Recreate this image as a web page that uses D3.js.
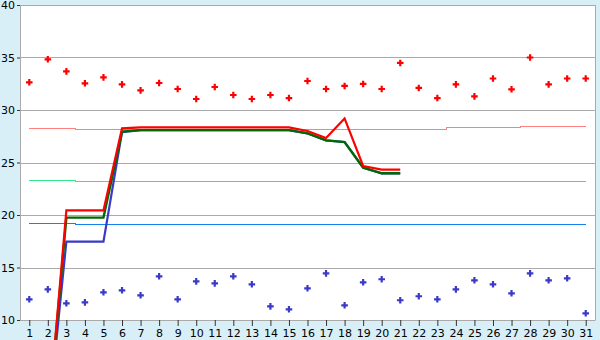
<!DOCTYPE html>
<html>
<head>
<meta charset="utf-8">
<script src="https://cdn.jsdelivr.net/npm/d3@7"></script>
<style>
  body { margin: 0; background: #d9eff7; }
  text { font-family: "DejaVu Sans", sans-serif; font-size: 11px; fill: #000; }
</style>
</head>
<body>
<div id="chart-area"></div>
<script>
const MARGIN = { LEFT: 20, RIGHT: 5, TOP: 5, BOTTOM: 20 }
const WIDTH = 600 - MARGIN.LEFT - MARGIN.RIGHT
const HEIGHT = 340 - MARGIN.TOP - MARGIN.BOTTOM

// days of the month
const days = d3.range(1, 32)
const yTicks = [10, 15, 20, 25, 30, 35, 40]

// scattered points
const highPoints = [32.64, 34.83, 33.68, 32.54, 33.11, 32.44, 31.87, 32.57, 32.0, 31.05,
  32.19, 31.43, 31.05, 31.43, 31.14, 32.76, 32.0, 32.29, 32.48, 32.0,
  34.48, 32.1, 31.14, 32.44, 31.3, 33.0, 31.97, 35.0, 32.44, 33.0, 33.0]
const lowPoints = [11.97, 12.92, 11.59, 11.68, 12.64, 12.83, 12.35, 14.16, 11.97, 13.68,
  13.49, 14.16, 13.4, 11.3, 11.02, 13.02, 14.44, 11.4, 13.59, 13.88,
  11.88, 12.26, 11.97, 12.92, 13.78, 13.4, 12.54, 14.44, 13.78, 13.97, 10.64]

// thin reference lines
const pinkRef = [28.25, 28.25, 28.25, 28.18, 28.18, 28.18, 28.18, 28.18, 28.18, 28.18,
  28.18, 28.18, 28.18, 28.18, 28.18, 28.18, 28.18, 28.18, 28.18, 28.18,
  28.18, 28.18, 28.18, 28.38, 28.38, 28.38, 28.38, 28.47, 28.47, 28.47, 28.47]
const greenRef = [23.32, 23.32, 23.32, 23.24, 23.24, 23.24, 23.24, 23.24, 23.24, 23.24,
  23.24, 23.24, 23.24, 23.24, 23.24, 23.24, 23.24, 23.24, 23.24, 23.24,
  23.24, 23.24, 23.24, 23.24, 23.24, 23.24, 23.24, 23.24, 23.24, 23.24, 23.24]
const blueRef = [19.21, 19.21, 19.21, 19.11, 19.11, 19.11, 19.11, 19.11, 19.11, 19.11,
  19.11, 19.11, 19.11, 19.11, 19.11, 19.11, 19.11, 19.11, 19.11, 19.11,
  19.11, 19.11, 19.11, 19.11, 19.11, 19.11, 19.11, 19.11, 19.11, 19.11, 19.11]

// thick running lines (days 1..21)
const redLine = [0, 0, 20.44, 20.44, 20.44, 28.25, 28.35, 28.35, 28.35, 28.35,
  28.35, 28.35, 28.35, 28.35, 28.35, 28.0, 27.33, 29.2, 24.67, 24.32, 24.32]
const greenLine = [0, 0, 19.75, 19.75, 19.75, 27.94, 28.08, 28.08, 28.08, 28.08,
  28.08, 28.08, 28.08, 28.08, 28.08, 27.78, 27.11, 26.95, 24.51, 23.97, 23.97]
const blueLine = [0, 0, 17.46, 17.46, 17.46, 27.9, 28.08, 28.08, 28.08, 28.08,
  28.08, 28.08, 28.08, 28.08, 28.08, 27.78, 27.11, 26.95, 24.51, 23.97, 23.97]

const svg = d3.select("#chart-area").append("svg")
  .attr("width", 600)
  .attr("height", 340)
  .style("display", "block")

const g = svg.append("g")
  .attr("transform", `translate(${MARGIN.LEFT}, ${MARGIN.TOP})`)

const x = d3.scalePoint()
  .domain(days)
  .range([0, WIDTH])
  .padding(0.5)

const y = d3.scaleLinear()
  .domain([10, 40])
  .range([HEIGHT, 0])

// white plot area
g.append("rect")
  .attr("width", WIDTH)
  .attr("height", HEIGHT)
  .attr("fill", "#fff")

// gridlines
g.append("g")
  .selectAll("line")
  .data(yTicks)
  .enter().append("line")
  .attr("x1", 0)
  .attr("x2", WIDTH)
  .attr("y1", d => Math.round(y(d)) + 0.5)
  .attr("y2", d => Math.round(y(d)) + 0.5)
  .attr("stroke", "#aaa")

g.append("line")
  .attr("x1", WIDTH + 0.5).attr("x2", WIDTH + 0.5)
  .attr("y1", 0).attr("y2", HEIGHT)
  .attr("stroke", "#aaa")

// y axis
const yAxis = g.append("g")
  .call(d3.axisLeft(y).tickValues(yTicks).tickSize(3).tickPadding(2))
yAxis.select(".domain").attr("stroke", "#aaa")
yAxis.selectAll(".tick line").attr("stroke", "#333")
yAxis.selectAll("text").attr("font-size", 11).attr("fill", "#000")

// x axis
const xAxis = g.append("g")
  .attr("transform", `translate(0, ${HEIGHT})`)
  .call(d3.axisBottom(x).tickSize(6).tickPadding(3).tickSizeOuter(0))
xAxis.select(".domain").attr("stroke", "#aaa")
xAxis.selectAll(".tick line").attr("stroke", "#333")
xAxis.selectAll("text").attr("font-size", 11).attr("fill", "#000")

// thin reference lines
const refLine = d3.line()
  .x((d, i) => x(days[i]))
  .y(d => Math.round(y(d)) + 0.5)
  .curve(d3.curveStep)

const refs = [
  { values: pinkRef, color: "#ff8080" },
  { values: greenRef, color: "#30e888" },
  { values: blueRef, color: "#1580f0" }
]
refs.forEach(r => {
  g.append("path")
    .attr("d", refLine(r.values))
    .attr("fill", "none")
    .attr("stroke", r.color)
    .attr("stroke-width", 1)
    .attr("shape-rendering", "crispEdges")
})

// markers
const cross = d3.symbol().type(d3.symbolCross).size(24)
g.selectAll(".high")
  .data(highPoints)
  .enter().append("path")
  .attr("class", "high")
  .attr("d", cross)
  .attr("transform", (d, i) => `translate(${x(days[i])}, ${y(d)})`)
  .attr("fill", "#ff0000")

g.selectAll(".low")
  .data(lowPoints)
  .enter().append("path")
  .attr("class", "low")
  .attr("d", cross)
  .attr("transform", (d, i) => `translate(${x(days[i])}, ${y(d)})`)
  .attr("fill", "#3a3ac8")

// thick lines, not clipped, they run off the bottom
const runLine = d3.line()
  .x((d, i) => x(days[i]))
  .y(d => y(d))

const runs = [
  { values: blueLine, color: "#3a3ac8", w: 2.2 },
  { values: greenLine, color: "#006a00", w: 2.4 },
  { values: redLine, color: "#ff0000", w: 2.2 }
]
runs.forEach(r => {
  g.append("path")
    .attr("d", runLine(r.values))
    .attr("fill", "none")
    .attr("stroke", r.color)
    .attr("stroke-width", r.w)
})
</script>
</body>
</html>
